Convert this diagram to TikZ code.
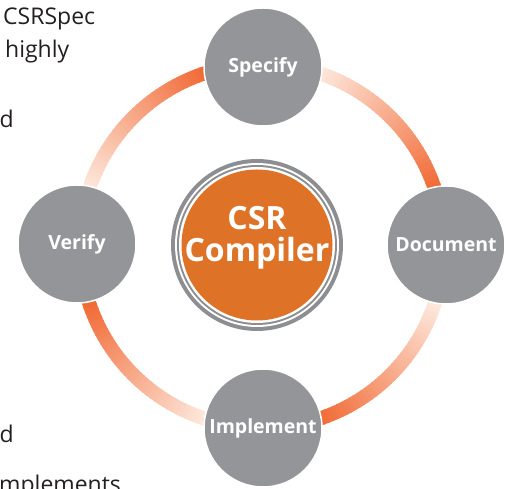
\documentclass[tikz,border=0pt]{standalone}
\usepackage{fontspec}
\setmainfont{Open Sans}
\definecolor{satGray}{RGB}{147,149,152}
\definecolor{ringGray}{RGB}{140,142,145}
\definecolor{coreOrange}{RGB}{222,114,39}
\definecolor{arcDark}{RGB}{241,103,50}
\definecolor{arcLight}{RGB}{253,232,220}
\definecolor{bodyText}{RGB}{35,31,32}
\tikzset{
  sat/.style={circle, minimum size=118pt, inner sep=0pt, fill=satGray, draw=white, line width=1.5pt,
    text=white, font=\fontsize{19.5}{20}\selectfont\bfseries},
  core/.style={circle, minimum size=151pt, inner sep=0pt, fill=coreOrange, text=white, align=center,
    font=\fontsize{32}{32}\selectfont\bfseries},
  body/.style={inner sep=0pt, text=bodyText, font=\fontsize{23}{28}\selectfont},
}
\begin{document}
\begin{tikzpicture}[x=1pt,y=1pt]
\clip (0,0) rectangle (506,489);
\useasboundingbox (0,0) rectangle (506,489);
% body text fragments
\node[body, anchor=base west] (t1) at (3,464) {CSRSpec};
\node[body, anchor=base west] (t2) at (5,431) {highly};
\node[body, anchor=base east] (t3) at (14,361) {d};
\node[body, anchor=base east] (t4) at (14,46) {d};
\node[body, anchor=base west] (t5) at (-1,-4) {mplements};
% ring with clockwise gradients
\coordinate (ring) at (262,243);
\foreach \k in {0,1,2,3}{
  \foreach \i in {0,...,59}{
    \pgfmathsetmacro\a{90-90*\k-1.5*\i}
    \pgfmathsetmacro\p{max(0,min(100,(1.5*\i-18)/54*100))}
    \draw[line width=14pt, arcDark!\p!arcLight]
      ([shift={(\a:182)}]ring) arc[start angle=\a, end angle=\a-1.9, radius=182];
  }
}
% satellites
\node[sat] (specify) at (263,422) {Specify};
\node[sat] (document) at (446,244) {Document};
\node[sat] (implement) at (263,61) {Implement};
\node[sat] (verify) at (77,245) {Verify};
% core
\coordinate (c) at (257,244);
\fill[ringGray] (c) circle[radius=86];
\fill[white] (c) circle[radius=82];
\fill[ringGray] (c) circle[radius=80];
\fill[white] (c) circle[radius=78];
\node[core] (compiler) at (c) {};
\node[text=white, font=\fontsize{32}{32}\selectfont\bfseries, anchor=base, inner sep=0pt] (csr) at (257,259) {CSR};
\node[text=white, font=\fontsize{32}{32}\selectfont\bfseries, anchor=base, inner sep=0pt] (comp) at (257,227) {Compiler};
\end{tikzpicture}
\end{document}
